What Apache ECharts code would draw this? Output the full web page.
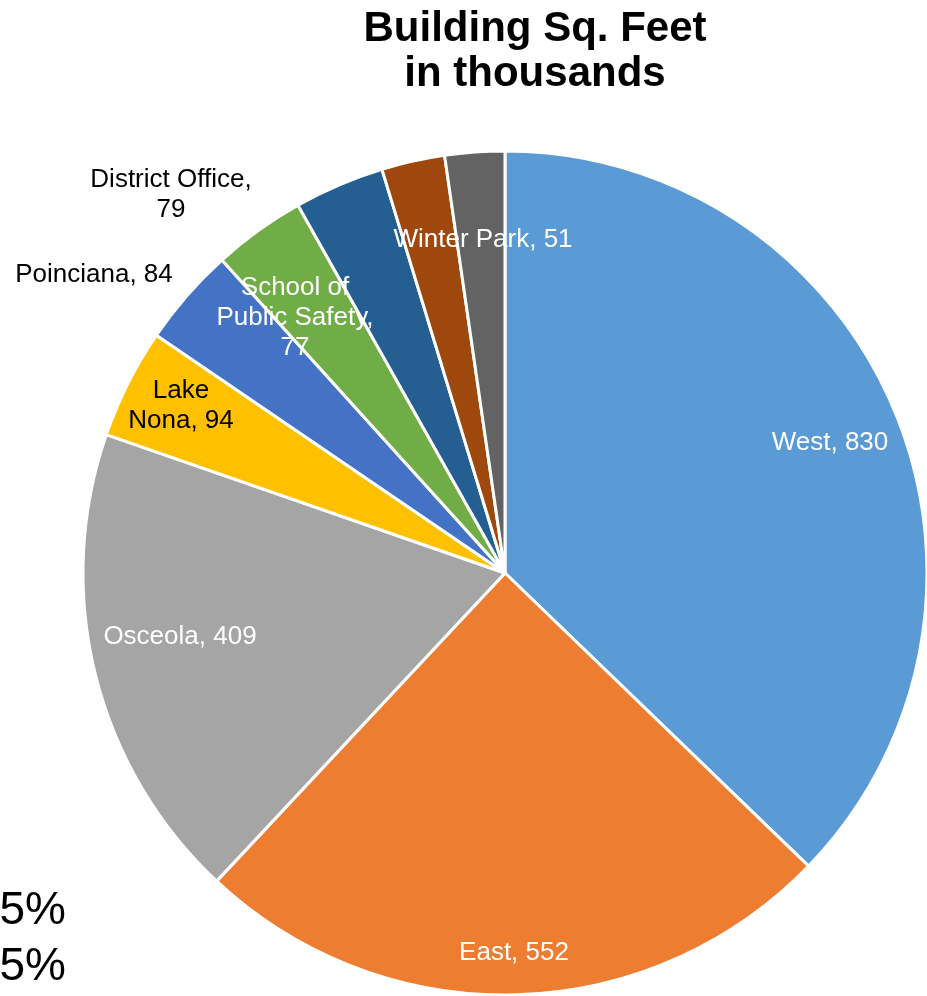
<!DOCTYPE html>
<html>
<head>
<meta charset="utf-8">
<script src="https://cdn.jsdelivr.net/npm/echarts@6/dist/echarts.min.js"></script>
<style>
  html, body { margin: 0; padding: 0; background: #fff; }
  #main { width: 927px; height: 996px; }
</style>
</head>
<body>
<div id="main"></div>
<script>
// campuses, clockwise from 12 o'clock
var campuses = ['West', 'East', 'Osceola', 'Lake Nona', 'Poinciana', 'District Office',
  'School of Public Safety', 'Other', 'Winter Park'];
var sqFeet = [830, 552, 409, 94, 84, 79, 77, 54, 51];
var sliceColors = ['#5B9BD5', '#ED7D31', '#A5A5A5', '#FFC000', '#4472C4', '#70AD47',
  '#255E91', '#9E480E', '#636363'];
// how each label is written (Excel wraps some of them)
var labelText = ['West, 830', 'East, 552', 'Osceola, 409', 'Lake\nNona, 94', 'Poinciana, 84',
  'District Office,\n79', 'School of\nPublic Safety,\n77', '', 'Winter Park, 51'];
var labelInk = ['#fff', '#fff', '#fff', '#000', '#000', '#000', '#fff', '#fff', '#fff'];
// where Excel left each label (centre of the text block)
var labelAt = [[830, 443], [514, 953], [180, 637], [181, 406], [94, 275],
  [171, 195], [295, 318], [0, 0], [483, 240]];

var myChart = echarts.init(document.getElementById('main'));

var pieData = campuses.map(function (c, i) {
  return {
    name: c,
    value: sqFeet[i],
    itemStyle: { color: sliceColors[i] },
    label: { show: labelText[i] !== '', color: labelInk[i], formatter: labelText[i] }
  };
});

myChart.setOption({
  animation: false,
  title: {
    text: 'Building Sq. Feet\nin thousands',
    left: 530,
    top: 2,
    textAlign: 'center',
    textStyle: {
      fontFamily: 'Liberation Sans, Arial, sans-serif',
      fontSize: 42,
      fontWeight: 'bold',
      lineHeight: 45,
      color: '#000'
    }
  },
  graphic: [
    { type: 'text', right: 861, top: 888,
      style: { text: '5%', font: '46px Liberation Sans, Arial, sans-serif', fill: '#000' } },
    { type: 'text', right: 861, top: 944,
      style: { text: '5%', font: '46px Liberation Sans, Arial, sans-serif', fill: '#000' } }
  ],
  series: [{
    type: 'pie',
    center: [505, 573],
    radius: [0, 422],
    startAngle: 90,
    clockwise: true,
    avoidLabelOverlap: false,
    itemStyle: { borderColor: '#fff', borderWidth: 3 },
    label: {
      position: 'inside',
      fontFamily: 'Liberation Sans, Arial, sans-serif',
      fontSize: 26,
      lineHeight: 30,
      align: 'center'
    },
    labelLine: { show: false },
    emphasis: { disabled: true },
    labelLayout: function (p) {
      var at = labelAt[p.dataIndex];
      return { x: at[0], y: at[1], align: 'center', verticalAlign: 'middle' };
    },
    data: pieData
  }]
});
</script>
</body>
</html>
